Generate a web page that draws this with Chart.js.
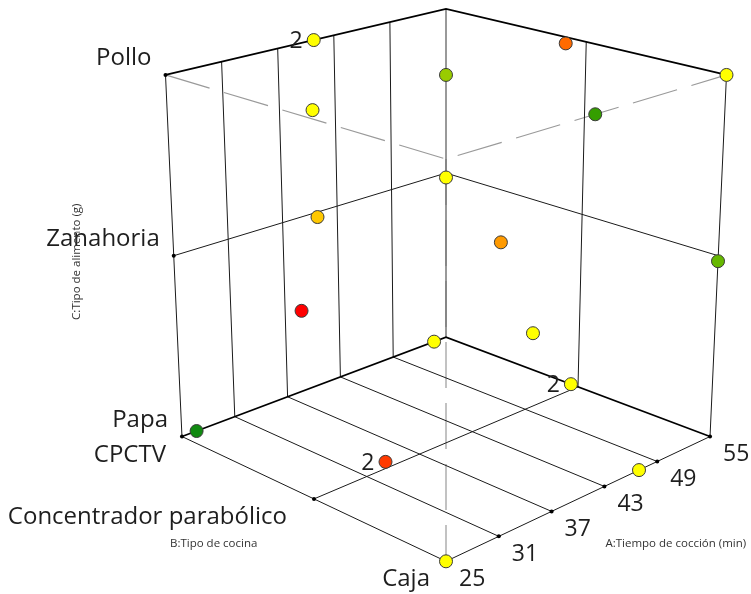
<!DOCTYPE html>
<html>
<head>
<meta charset="utf-8">
<script src="https://cdn.jsdelivr.net/npm/chart.js@4.4.1/dist/chart.umd.min.js"></script>
<style>
  html, body { margin: 0; padding: 0; background: #fff; }
</style>
</head>
<body>
<canvas id="chart3d" width="751" height="594"></canvas>
<script>
// Ejes del cubo
const tiempoTicks = [25, 31, 37, 43, 49, 55];
const tiposCocina = ['Caja', 'Concentrador parabólico', 'CPCTV'];
const tiposAlimento = ['Papa', 'Zanahoria', 'Pollo'];

// Corridas del diseño (A, B, C) y número de réplicas
const tiempo   = [40, 53.5, 40, 55, 26.5, 40, 55, 40, 46.2, 55, 25, 33.8, 53.5, 55, 26.5, 33.3, 46.2, 25];
const cocina   = ['CPCTV', 'Concentrador parabólico', 'Concentrador parabólico', 'Caja', 'Concentrador parabólico', 'Caja',
                  'CPCTV', 'CPCTV', 'Concentrador parabólico', 'Caja', 'Concentrador parabólico', 'Caja',
                  'CPCTV', 'Concentrador parabólico', 'CPCTV', 'Concentrador parabólico', 'Caja', 'Caja'];
const alimento = ['Pollo', 'Pollo', 'Pollo', 'Pollo', 'Pollo', 'Pollo',
                  'Zanahoria', 'Zanahoria', 'Zanahoria', 'Zanahoria', 'Zanahoria', 'Zanahoria',
                  'Papa', 'Papa', 'Papa', 'Papa', 'Papa', 'Papa'];
const replicas = [2, 1, 1, 1, 1, 1, 1, 1, 1, 1, 1, 1, 1, 2, 1, 2, 1, 1];

// color de cada corrida (escala de la respuesta)
const colores = ['#ffff00', '#ff6a00', '#99cc00', '#ffff00', '#ffff00', '#359e00',
                 '#ffff00', '#ffc800', '#ff9a00', '#66b800', '#ff0000', '#ffff00',
                 '#ffff00', '#ffff00', '#118a11', '#ff3a00', '#ffff00', '#ffff00'];

// Cámara en perspectiva (cubo unitario centrado en el origen)
const cam = { pitch: 20.1 * Math.PI / 180, dist: 5.68, focal: 2185, cx: 446, cy: 261.2 };

function proyectar(a, b, c) {
    const ap = a - 0.5, bp = b - 0.5, zp = c - 0.5;
    const h = (ap - bp) * Math.SQRT1_2;
    const g = -(ap + bp) * Math.SQRT1_2;
    const yc = zp * Math.cos(cam.pitch) - g * Math.sin(cam.pitch);
    const zc = g * Math.cos(cam.pitch) + zp * Math.sin(cam.pitch);
    const k = cam.focal / (cam.dist - zc);
    return { x: cam.cx + h * k, y: cam.cy - yc * k };
}

// las rejillas se interpolan entre las esquinas proyectadas
const esquinas = {};
[0, 1].forEach(a => [0, 1].forEach(b => [0, 1].forEach(c => {
    esquinas[a + '' + b + c] = proyectar(a, b, c);
})));

function rejilla(a, b, c) {
    let x = 0, y = 0;
    [0, 1].forEach(i => [0, 1].forEach(j => [0, 1].forEach(k => {
        const w = (i ? a : 1 - a) * (j ? b : 1 - b) * (k ? c : 1 - c);
        const p = esquinas[i + '' + j + k];
        x += w * p.x;
        y += w * p.y;
    })));
    return { x: x, y: y };
}

const normA = v => (v - tiempoTicks[0]) / (tiempoTicks[tiempoTicks.length - 1] - tiempoTicks[0]);
const normB = v => tiposCocina.indexOf(v) / (tiposCocina.length - 1);
const normC = v => tiposAlimento.indexOf(v) / (tiposAlimento.length - 1);

const CORTE = { x: NaN, y: NaN };
function trazos(lista) {
    const out = [];
    lista.forEach(seg => {
        seg.forEach(p => out.push(rejilla(p[0], p[1], p[2])));
        out.push(CORTE);
    });
    return out;
}

const interiores = tiempoTicks.slice(1, -1).map(normA);

const lineasGruesas = trazos([
    [[0, 1, 1], [1, 1, 1], [1, 0, 1]],
    [[0, 1, 0], [1, 1, 0], [1, 0, 0]]
]);

const lineasFinas = trazos([
    [[1, 0, 0], [0, 0, 0], [0, 1, 0], [0, 1, 1]],
    [[1, 0, 0], [1, 0, 1]],
    [[0, 0.5, 0], [1, 0.5, 0], [1, 0.5, 1]],
    [[0, 1, 0.5], [1, 1, 0.5], [1, 0, 0.5]]
].concat(interiores.map(t => [[t, 0, 0], [t, 1, 0], [t, 1, 1]])));

const lineaFondo = trazos([[[1, 1, 0], [1, 1, 1]]]);

const lineasOcultas = trazos([
    [[0, 1, 1], [0, 0, 1], [1, 0, 1]],
    [[0, 0, 1], [0, 0, 0]]
]);

// marcas de los ejes
const marcas = tiempoTicks.slice(1).map(v => rejilla(normA(v), 0, 0))
    .concat(tiposCocina.slice(1).map(v => rejilla(0, normB(v), 0)))
    .concat(tiposAlimento.slice(1).map(v => rejilla(0, 1, normC(v))));

const puntos = tiempo.map((v, i) => proyectar(normA(v), normB(cocina[i]), normC(alimento[i])));

const FUENTE = '"Open Sans", "Noto Sans", sans-serif';

const etiquetas3d = {
    id: 'etiquetas3d',
    afterDatasetsDraw(chart) {
        const ctx = chart.ctx;
        const sx = chart.scales.x, sy = chart.scales.y;
        const px = p => ({ x: sx.getPixelForValue(p.x), y: sy.getPixelForValue(p.y) });
        ctx.save();
        ctx.fillStyle = '#1e1e1e';
        ctx.textBaseline = 'alphabetic';

        // eje A
        ctx.font = '23px ' + FUENTE;
        ctx.textAlign = 'left';
        tiempoTicks.forEach(v => {
            const p = px(rejilla(normA(v), 0, 0));
            ctx.fillText(String(v), p.x + 13, p.y + 24.5);
        });

        // eje B
        ctx.font = '24px ' + FUENTE;
        ctx.textAlign = 'right';
        tiposCocina.forEach((v, i) => {
            const p = px(rejilla(0, normB(v), 0));
            const dx = i === 1 ? 27 : 16;
            ctx.fillText(v, p.x - dx, p.y + 25);
        });

        // eje C
        tiposAlimento.forEach(v => {
            const p = px(rejilla(0, 1, normC(v)));
            ctx.fillText(v, p.x - 14, p.y - 10);
        });

        // réplicas
        ctx.font = '23px ' + FUENTE;
        puntos.forEach((q, i) => {
            if (replicas[i] > 1) {
                const p = px(q);
                ctx.fillText(String(replicas[i]), p.x - 11, p.y + 8);
            }
        });

        // títulos de los ejes
        ctx.font = '11.5px ' + FUENTE;
        ctx.fillStyle = '#333';
        ctx.textAlign = 'left';
        let p = px(rejilla(normA(43), 0, 0));
        ctx.fillText('A:Tiempo de cocción (min)', p.x + 1, p.y + 61);
        p = px(rejilla(0, 0.5, 0));
        ctx.fillText('B:Tipo de cocina', p.x - 144, p.y + 48);
        p = px(rejilla(0, 1, 0.5));
        ctx.translate(p.x - 94, p.y + 6);
        ctx.rotate(-Math.PI / 2);
        ctx.textAlign = 'center';
        ctx.fillText('C:Tipo de alimento (g)', 0, 0);
        ctx.restore();
    }
};

const lineaBase = { showLine: true, pointRadius: 0, fill: false, spanGaps: false, order: 2 };

new Chart(document.getElementById('chart3d'), {
    type: 'scatter',
    data: {
        datasets: [
            {
                label: 'Corridas',
                data: puntos,
                pointRadius: 6.5,
                pointBackgroundColor: colores,
                pointBorderColor: '#3a3a3a',
                pointBorderWidth: 1,
                order: 0
            },
            {
                label: 'Marcas',
                data: marcas,
                pointRadius: 2,
                pointBackgroundColor: '#000',
                pointBorderWidth: 0,
                order: 1
            },
            Object.assign({ label: 'Aristas', data: lineasGruesas, borderColor: '#000', borderWidth: 1.7 }, lineaBase),
            Object.assign({ label: 'Rejilla', data: lineasFinas, borderColor: '#1a1a1a', borderWidth: 1 }, lineaBase),
            Object.assign({ label: 'Fondo', data: lineaFondo, borderColor: '#6e6e6e', borderWidth: 1.4 }, lineaBase),
            Object.assign({ label: 'Ocultas', data: lineasOcultas, borderColor: '#9a9a9a', borderWidth: 1.2, borderDash: [46, 15] }, lineaBase)
        ]
    },
    options: {
        responsive: false,
        animation: false,
        layout: { padding: 0, autoPadding: false },
        scales: {
            x: { type: 'linear', min: 0, max: 751, display: false },
            y: { type: 'linear', min: 0, max: 594, reverse: true, display: false }
        },
        plugins: {
            legend: { display: false },
            tooltip: { enabled: false }
        }
    },
    plugins: [etiquetas3d]
});
</script>
</body>
</html>
